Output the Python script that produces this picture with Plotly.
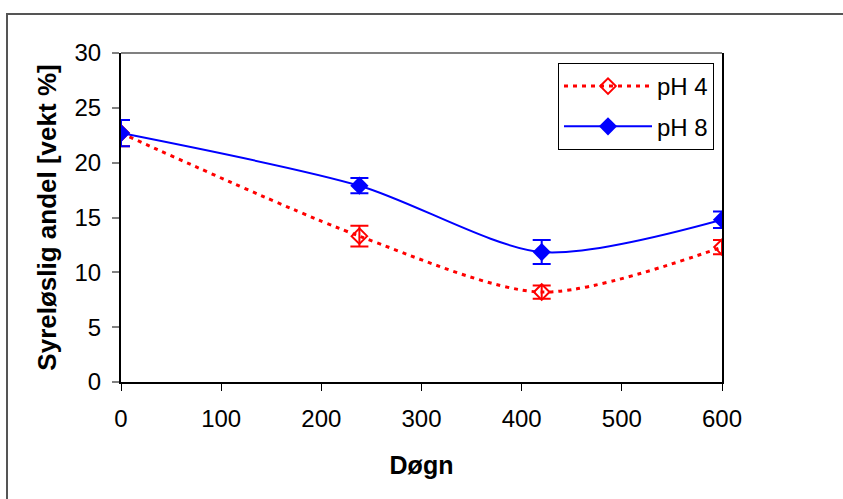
import plotly.graph_objects as go

days = [0, 238, 420, 600]
ph4 = [22.7, 13.3, 8.2, 12.3]
ph4_err = [1.2, 0.95, 0.6, 0.65]
ph8 = [22.7, 17.9, 11.85, 14.8]
ph8_err = [1.2, 0.7, 1.1, 0.75]
x_ticks = [0, 100, 200, 300, 400, 500, 600]
y_ticks = [0, 5, 10, 15, 20, 25, 30]

W, H = 843, 499
L, R, T, B = 121, 121, 53, 117
pw, ph = W - L - R, H - T - B

fig = go.Figure()
fig.add_trace(go.Scatter(
    x=days, y=ph4, name="pH 4", mode="lines+markers", legendgroup="a",
    line=dict(color="#FF0000", width=3, dash="4px,5px", shape="spline", smoothing=0.8),
    marker=dict(symbol="diamond-open", size=12, color="#FF0000", line=dict(width=2)),
    error_y=dict(type="data", array=ph4_err, color="#FF0000", thickness=2, width=9),
))
fig.add_trace(go.Scatter(
    x=days, y=ph8, name="pH 8", mode="lines+markers", legendgroup="b",
    line=dict(color="#0000FF", width=2, shape="spline", smoothing=0.8),
    marker=dict(symbol="diamond", size=14, color="#0000FF"),
    error_y=dict(type="data", array=ph8_err, color="#0000FF", thickness=2, width=9),
))

font = "Liberation Sans, Arial, sans-serif"
fig.update_layout(
    width=W, height=H,
    margin=dict(l=L, r=R, t=T, b=B),
    paper_bgcolor="white", plot_bgcolor="white",
    font=dict(family=font, size=24, color="black"),
    showlegend=True,
    legend=dict(x=(558 - L) / pw, y=1 - (63 - T) / ph, xanchor="left", yanchor="top",
                bordercolor="black", borderwidth=1, bgcolor="white",
                font=dict(size=24), itemwidth=88, tracegroupgap=6),
    xaxis=dict(range=[0, 600], tickvals=x_ticks, showgrid=False, zeroline=False,
               showline=True, linecolor="black", linewidth=2,
               ticks="outside", ticklen=7, tickcolor="black", tickwidth=1,
               ticklabelstandoff=7,
               title=dict(text="<b>Døgn</b>", font=dict(size=25), standoff=26)),
    yaxis=dict(range=[0, 30], tickvals=y_ticks, showgrid=False, zeroline=False,
               showline=True, linecolor="black", linewidth=2, mirror=True,
               ticks="outside", ticklen=7, tickcolor="#808080", tickwidth=2,
               ticklabelstandoff=6,
               title=dict(text="<b>Syreløslig andel [vekt %]</b>", font=dict(size=26), standoff=10)),
    shapes=[
        dict(type="line", xref="paper", yref="paper", x0=0, x1=1, y0=1, y1=1,
             line=dict(color="#808080", width=2)),
        dict(type="rect", xref="paper", yref="paper",
             x0=(7 - L) / pw, x1=(848 - L) / pw,
             y0=1 - (505 - T) / ph, y1=1 + (T - 14) / ph,
             line=dict(color="#555555", width=2)),
    ],
)
fig.write_html("out.html", config={"displayModeBar": False},
               post_script="document.body.style.margin='0';")
